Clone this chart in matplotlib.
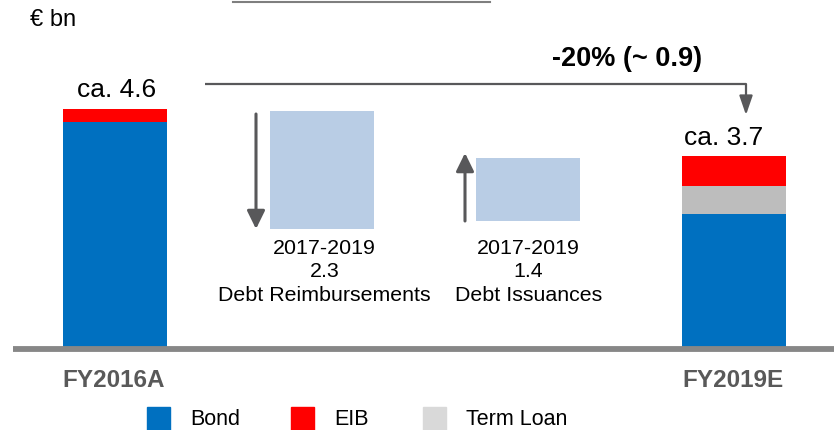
import matplotlib
matplotlib.use("Agg")
import matplotlib.pyplot as plt
from matplotlib.patches import Rectangle

plt.rcParams['font.family'] = ['Liberation Sans', 'DejaVu Sans']

# values in € bn
fy2016_bond = 4.35
fy2016_eib = 0.25
fy2019_bond = 2.6
fy2019_term = 0.52
fy2019_eib = 0.58
reimb_top = 4.57
reimb_drawn = 2.27
issue_bottom = 2.46
issue_drawn = 1.21

bar_labels = ['FY2016A', 'FY2019E']
total_labels = ['ca. 4.6', 'ca. 3.7']
step_labels = ['2017-2019\n2.3\nDebt Reimbursements', '2017-2019\n1.4\nDebt Issuances']
change_label = '-20% (~ 0.9)'
legend_names = ['Bond', 'EIB', 'Term Loan']

BLUE = '#0070c0'
RED = '#ff0000'
GREY = '#bdbdbd'
LIGHT = '#b9cde5'
DARK = '#58585a'

k = 52.1      # pixels per bn
base = 350    # pixel row of zero


def yv(py):
    """pixel row -> data value"""
    return (base - py) / k


fig = plt.figure(figsize=(8.34, 4.31), dpi=100)
ax = fig.add_axes([0, 0, 1, 1])
ax.set_xlim(0, 834)
ax.set_ylim(yv(431), yv(0))
ax.axis('off')

xs = [115, 322.5, 528.5, 734]
w = 104

# stacked end bars
ax.bar(xs[0], fy2016_bond, w, color=BLUE)
ax.bar(xs[0], fy2016_eib, w, bottom=fy2016_bond, color=RED)
ax.bar(xs[3], fy2019_bond, w, color=BLUE)
ax.bar(xs[3], fy2019_term, w, bottom=fy2019_bond, color=GREY)
ax.bar(xs[3], fy2019_eib, w, bottom=fy2019_bond + fy2019_term, color=RED)

# floating steps
ax.bar(xs[1], reimb_drawn, w, bottom=reimb_top - reimb_drawn, color=LIGHT)
ax.bar(xs[2], issue_drawn, w, bottom=issue_bottom, color=LIGHT)

# baseline
ax.plot([13, 834], [yv(350), yv(350)], color='#878787', lw=4.2, solid_capstyle='butt', zorder=5)

# top decorative line
ax.plot([233, 490], [yv(2.5), yv(2.5)], color='#7f7f7f', lw=1.5)

# step arrows
arr = dict(arrowstyle='-|>,head_length=0.55,head_width=0.27', color=DARK, lw=2.2,
           mutation_scale=20, shrinkA=0, shrinkB=0)
ax.annotate('', xy=(256, yv(230)), xytext=(256, yv(115)), arrowprops=arr)
ax.annotate('', xy=(465, yv(154)), xytext=(465, yv(222)), arrowprops=arr)

# connector
ax.plot([205, 746], [yv(85), yv(85)], color=DARK, lw=1.6, solid_capstyle='butt')
ax.annotate('', xy=(746, yv(116)), xytext=(746, yv(85)),
            arrowprops=dict(arrowstyle='-|>,head_length=0.58,head_width=0.2', color=DARK,
                            lw=1.6, mutation_scale=20, shrinkA=0, shrinkB=0))
ax.text(627, yv(59), change_label, ha='center', va='center', fontsize=19.5, fontweight='bold')

# texts
ax.text(30, yv(20), '€ bn', ha='left', va='center', fontsize=17)
ax.text(xs[0] + 2, yv(90), total_labels[0], ha='center', va='center', fontsize=19)
ax.text(xs[3] - 10, yv(138), total_labels[1], ha='center', va='center', fontsize=19)
ax.text(xs[1] + 2, yv(272), step_labels[0], ha='center', va='center', fontsize=15.4,
        linespacing=1.3)
ax.text(xs[2], yv(272), step_labels[1], ha='center', va='center', fontsize=15.4,
        linespacing=1.3)
for x, lab in zip([xs[0], xs[3]], bar_labels):
    ax.text(x - 1, yv(381), lab, ha='center', va='center', fontsize=17.5, fontweight='bold',
            color='#595959')

# legend
lx = [147, 291, 423]
for x, name, c in zip(lx, legend_names, [BLUE, RED, '#d9d9d9']):
    ax.add_patch(Rectangle((x, yv(431)), 23, yv(408) - yv(431), color=c))
    ax.text(x + 43, yv(420), name, ha='left', va='center', fontsize=15.5)

fig.savefig('out.png', dpi=100)
